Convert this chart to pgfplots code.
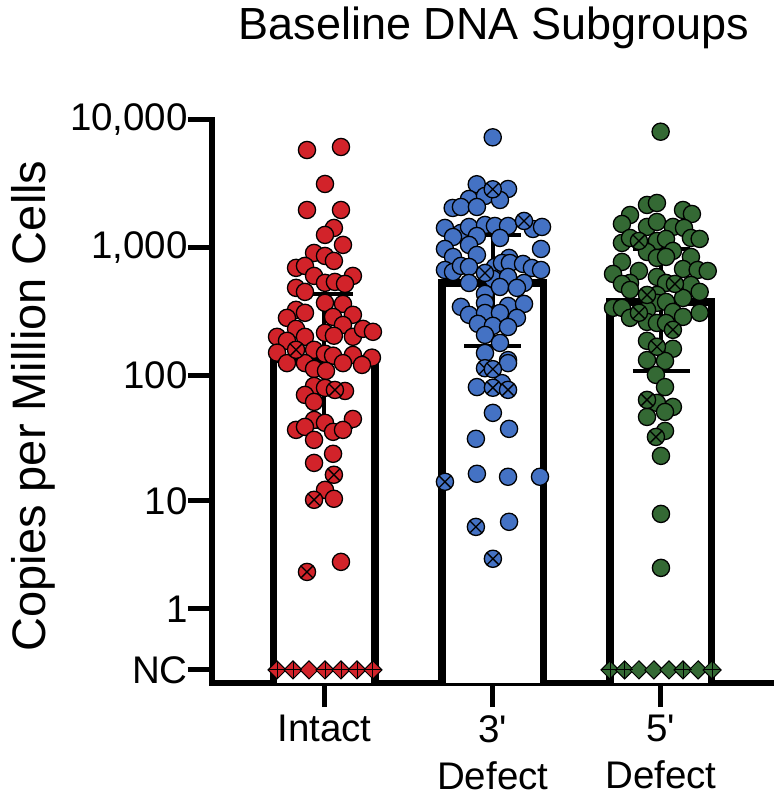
\documentclass[border=0pt]{standalone}
\usepackage{fontspec}
\setmainfont{Liberation Sans}
\usepackage{pgfplots}
\pgfplotsset{compat=1.18}
\definecolor{cred}{RGB}{210,35,42}
\definecolor{cblue}{RGB}{68,114,196}
\definecolor{cgreen}{RGB}{52,105,52}
\begin{document}
\begin{tikzpicture}
\path[use as bounding box] (0,0) rectangle (774pt,798pt);
\begin{axis}[
  scale only axis, width=559pt, height=563pt,
  at={(212pt,115pt)}, anchor=south west,
  xmin=-0.6686, xmax=2.654,
  ymin=-0.105, ymax=10000,
  y coord trafo/.code={\pgfmathparse{ln(#1+0.5)/ln(10)}},
  y coord inv trafo/.code={\pgfmathparse{10^(#1)-0.5}},
  axis x line*=bottom, axis y line*=left,
  axis line style={line width=5.5pt, line cap=rect, -},
  xtick={0,1,2},
  xticklabels={Intact, {3\textquotesingle\\Defect}, {5\textquotesingle\\Defect}},
  ytick={0,1,10,100,1000,10000},
  yticklabels={NC,1,10,100,{1,000},{10,000}},
  tick align=outside, major tick length=24pt,
  every tick/.style={black, line width=5pt},
  tick label style={font=\fontsize{38.5}{47}\selectfont},
  xticklabel style={align=center, anchor=north, inner sep=0pt, yshift=-8pt},
  yticklabel style={anchor=east, inner sep=0pt},
  clip=false,
  title={Baseline DNA Subgroups},
  title style={at={(axis description cs:0.5045,1.1457)}, anchor=base, yshift=-8pt, font=\fontsize{45}{54}\selectfont},
  ylabel={Copies per Million Cells},
  ylabel style={at={(axis description cs:-0.297,0.492)}, anchor=base, font=\fontsize{47}{56}\selectfont},
]
% bars (white, thick outline)
\addplot[draw=black, fill=white, line width=7.5pt, line join=miter, mark=none]
  coordinates {(-0.3016,-0.105) (-0.3016,135) (0.3016,135) (0.3016,-0.105)};
\addplot[draw=black, fill=white, line width=7.5pt, line join=miter, mark=none]
  coordinates {(0.6984,-0.105) (0.6984,531) (1.3016,531) (1.3016,-0.105)};
\addplot[draw=black, fill=white, line width=7.5pt, line join=miter, mark=none]
  coordinates {(1.6984,-0.105) (1.6984,377) (2.3016,377) (2.3016,-0.105)};
% Intact
\addplot[only marks, mark=*, mark size=8.6pt, mark options={fill=cred, draw=black, line width=1.3pt}]
  coordinates {(-0.104,5826) (0.098,6152) (0.003,3160) (-0.104,1978) (0.098,1978) (0.056,1431) (0.003,1262) (0.110,1054) (-0.062,912) (0.003,864) (0.056,790) (-0.169,697) (-0.116,722) (-0.062,603) (0.169,603) (0.003,532) (0.062,541) (0.122,522) (-0.169,486) (-0.116,452) (0.003,371) (0.110,364) (-0.169,327) (-0.116,310) (-0.223,283) (0.051,288) (0.169,299) (-0.169,232) (0.110,249) (-0.282,201) (-0.116,201) (0.003,216) (0.056,205) (0.169,201) (0.229,232) (0.288,220) (-0.223,187) (-0.282,151) (-0.062,159) (0.003,148) (0.051,143) (0.169,145) (0.282,138) (-0.223,125) (-0.116,125) (0.110,125) (0.223,121) (-0.062,112.5) (0.009,108.6) (-0.062,82.7) (0.003,79.8) (0.122,75.5) (-0.116,70.3) (-0.062,61.9) (-0.062,44.6) (0.003,42.3) (0.169,45.4) (-0.169,37.2) (-0.116,39.3) (0.051,35.9) (0.110,37.2) (-0.062,31) (0.051,24) (-0.062,20.3) (0.003,12.3) (0.056,10.4) (0.098,3.0)};
\addplot[only marks, mark=otimes*, mark size=8.6pt, mark options={fill=cred, draw=black, line width=1.3pt}]
  coordinates {(-0.169,159) (0.062,76.9) (0.056,16.3) (-0.062,10.2) (-0.104,2.42)};
% 3' Defect
\addplot[only marks, mark=*, mark size=8.6pt, mark options={fill=cblue, draw=black, line width=1.3pt}]
  coordinates {(1.000,7320) (0.905,3143) (1.091,2887) (0.859,2412) (0.954,2546) (1.043,2369) (0.762,2051) (0.811,2088) (0.906,2088) (0.716,1431) (0.811,1307) (0.859,1457) (0.954,1510) (1.013,1483) (1.091,1483) (1.239,1405) (1.293,1457) (0.764,1216) (0.906,1238) (1.043,1195) (0.716,980) (0.859,1054) (1.287,980) (0.764,848) (0.906,880) (1.097,834) (0.716,671) (0.764,647) (0.811,722) (0.859,709) (1.013,709) (1.055,761) (1.102,761) (1.180,748) (1.233,696) (1.287,671) (0.859,531) (1.001,571) (1.091,592) (1.186,531) (0.954,436) (1.043,494) (1.144,486) (0.811,345) (0.954,370) (1.091,351) (1.186,364) (0.859,299) (0.954,309) (1.043,309) (1.144,283) (0.912,254) (1.001,245) (1.091,240) (0.954,208) (1.043,180) (0.954,150) (1.091,132) (1.091,125) (0.906,81) (1.055,87) (1.001,50.7) (1.097,37.9) (0.900,31.6) (0.906,16.6) (1.091,15.7) (1.281,15.7) (1.097,6.7)};
\addplot[only marks, mark=otimes*, mark size=8.6pt, mark options={fill=cblue, draw=black, line width=1.3pt}]
  coordinates {(1.000,2872) (1.186,1623) (0.954,636) (0.954,114) (1.001,112) (1.001,80) (1.091,77) (0.716,14.3) (0.900,6.07) (1.001,3.2)};
% 5' Defect
\addplot[only marks, mark=*, mark size=8.6pt, mark options={fill=cgreen, draw=black, line width=1.3pt}]
  coordinates {(1.998,8100) (1.917,2165) (1.976,2244) (1.816,1807) (2.131,1978) (2.184,1841) (1.768,1538) (1.917,1457) (1.976,1594) (2.071,1457) (2.137,1431) (1.768,1092) (1.816,1195) (1.976,1132) (2.030,1174) (2.071,946) (2.178,1195) (2.230,1174) (1.917,928) (1.976,834) (2.030,849) (2.178,849) (1.768,776) (1.869,659) (2.131,683) (2.218,671) (2.278,659) (1.715,625) (1.976,592) (1.816,531) (1.768,522) (2.030,531) (2.178,512) (2.230,452) (1.816,468) (1.976,428) (1.976,371) (2.030,377) (2.131,405) (1.715,339) (1.768,339) (1.917,327) (2.071,315) (2.131,288) (2.230,310) (1.816,283) (1.917,263) (1.976,258) (2.030,258) (1.917,187) (2.071,162) (1.917,132) (2.024,130) (1.970,101) (2.024,81) (1.976,60.8) (2.071,56.5) (2.024,51.6) (1.917,47.1) (2.024,36.5) (2.000,23.1) (2.000,7.8) (2.000,2.64)};
\addplot[only marks, mark=otimes*, mark size=8.6pt, mark options={fill=cgreen, draw=black, line width=1.3pt}]
  coordinates {(1.869,1132) (2.083,522) (1.917,428) (1.869,310) (2.071,228) (1.976,168) (1.917,64.2) (1.970,32.7)};
% NC (not calculable) points
\addplot[only marks, mark=square*, mark size=6.4pt, mark options={rotate=45, fill=cred, draw=black, line width=1pt}]
  coordinates {(-0.282,0) (-0.187,0) (-0.092,0) (0.003,0) (0.098,0) (0.193,0) (0.288,0)};
\addplot[only marks, mark=+, mark size=8.8pt, mark options={draw=black, line width=0.9pt}]
  coordinates {(-0.282,0) (-0.187,0) (0.003,0) (0.098,0) (0.193,0) (0.288,0)};
\addplot[only marks, mark=square*, mark size=6.4pt, mark options={rotate=45, fill=cgreen, draw=black, line width=1pt}]
  coordinates {(1.697,0) (1.784,0) (1.869,0) (1.958,0) (2.048,0) (2.131,0) (2.221,0) (2.304,0)};
\addplot[only marks, mark=+, mark size=8.8pt, mark options={draw=black, line width=0.9pt}]
  coordinates {(1.697,0) (1.784,0) (2.131,0) (2.304,0)};
% error bars
\addplot[black, line width=4pt, mark=none] coordinates {(0,39.3) (0,436)};
\addplot[black, line width=4pt, mark=none] coordinates {(-0.17,436) (0.17,436)};
\addplot[black, line width=4pt, mark=none] coordinates {(-0.17,39.3) (0.17,39.3)};
\addplot[black, line width=4pt, mark=none] coordinates {(1,170.5) (1,1262)};
\addplot[black, line width=4pt, mark=none] coordinates {(0.83,1262) (1.17,1262)};
\addplot[black, line width=4pt, mark=none] coordinates {(0.83,170.5) (1.17,170.5)};
\addplot[black, line width=4pt, mark=none] coordinates {(2.003,108.6) (2.003,980)};
\addplot[black, line width=4pt, mark=none] coordinates {(1.833,980) (2.173,980)};
\addplot[black, line width=4pt, mark=none] coordinates {(1.833,108.6) (2.173,108.6)};
\end{axis}
\end{tikzpicture}
\end{document}
